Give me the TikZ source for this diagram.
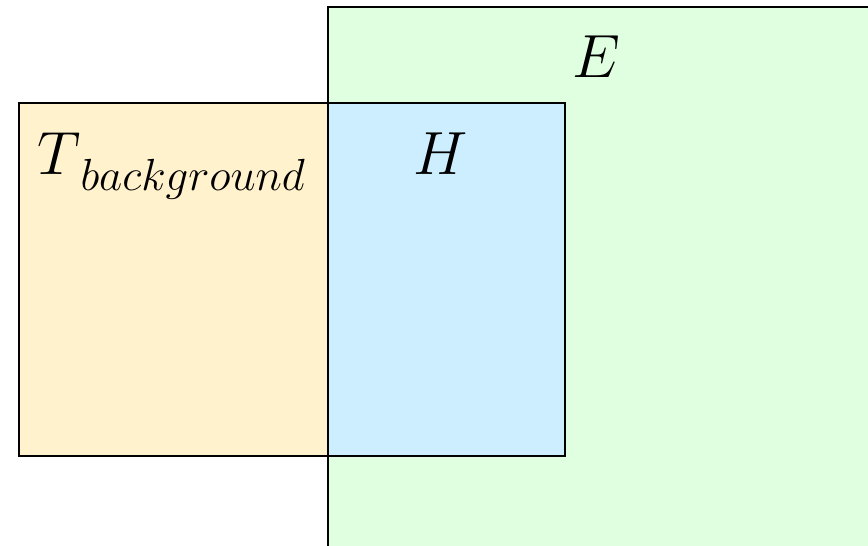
\documentclass[tikz,border=0pt]{standalone}
\usepackage{fix-cm}
\begin{document}
\begin{tikzpicture}[x=1pt,y=-1pt,
  box/.style={draw=black,line width=2.2pt},
  lbl/.style={anchor=base west,inner sep=0pt,font=\fontsize{61}{64}\selectfont}]
\definecolor{egreen}{HTML}{E0FFE0}
\definecolor{torange}{HTML}{FFF2CC}
\definecolor{hblue}{HTML}{CCEEFF}
\useasboundingbox (0,0) rectangle (868,546);
\clip (0,0) rectangle (868,546);
\path[box,fill=egreen] (328,7) rectangle (900,580);
\path[box,fill=torange] (19,103) rectangle (328,456);
\path[box,fill=hblue] (328,103) rectangle (565,456);
\node[lbl] (E) at (572,77) {$E$};
\node[lbl] (H) at (413,174) {$H$};
\node[lbl] (T) at (37,174) {$T$\hspace{0pt}\raisebox{-16pt}{\fontsize{45}{48}\selectfont$background$}};
\end{tikzpicture}
\end{document}
